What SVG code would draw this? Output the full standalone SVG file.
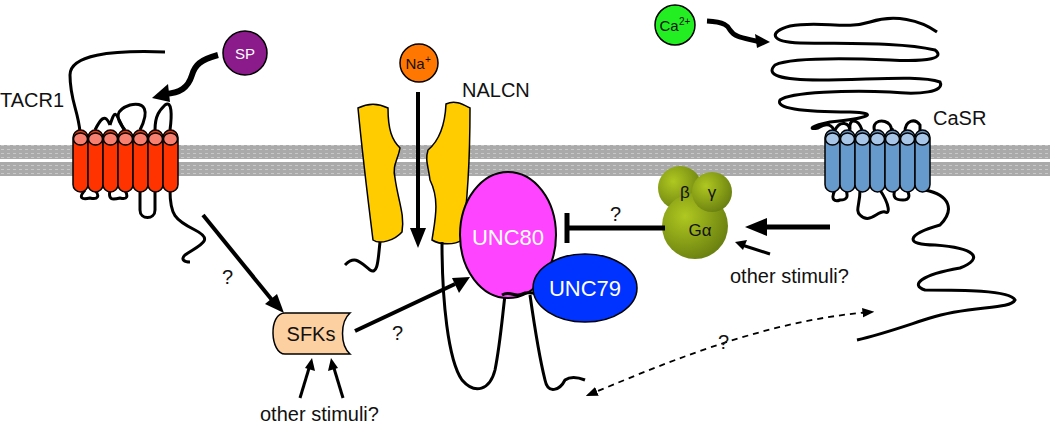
<svg xmlns="http://www.w3.org/2000/svg" width="1050" height="424" viewBox="0 0 1050 424">
<style>
text{font-family:"Liberation Sans",Arial,sans-serif;}
.lbl{font-size:20px;fill:#111}
.ln{fill:none;stroke:#000;stroke-width:3}
.hx{stroke:#000;stroke-width:1.5}
</style>
<defs>
<marker id="ahs" viewBox="0 0 10 10" refX="8" refY="5" markerWidth="12" markerHeight="12" markerUnits="userSpaceOnUse" orient="auto-start-reverse"><path d="M0,1 L10,5 L0,9 z"/></marker>
<radialGradient id="gg" cx="0.35" cy="0.35" r="0.7"><stop offset="0" stop-color="#b0c820"/><stop offset="1" stop-color="#6a8010"/></radialGradient>
<pattern id="mem" width="6" height="4" patternUnits="userSpaceOnUse"><rect width="6" height="4" fill="#aaa"/><rect x="1" y="1" width="3" height="1" fill="#c8c8c8"/></pattern>
</defs>
<rect width="1050" height="424" fill="#fff"/>
<g id="membrane">
<rect x="0" y="145" width="1050" height="14" fill="url(#mem)"/>
<rect x="0" y="162" width="1050" height="14" fill="url(#mem)"/>
</g>
<g id="tacr1">
<path class="ln" d="M80,132 C78,110 70,100 70,75 C70,55 110,50 165,52"/>
<path class="ln" d="M95,130 C100,120 105,112 110,125 M110,125 C115,110 115,110 124,130"/>
<path class="ln" d="M125,130 C115,118 115,110 130,105 C145,102 150,110 140,130"/>
<path class="ln" d="M155,130 C155,115 160,110 165,105 C172,100 172,115 170,130"/>
<path class="ln" d="M85,190 C78,198 82,200 90,198 C98,200 100,196 95,190 M110,190 C108,200 112,200 120,198 C128,200 128,196 125,190 M140,190 L140,210 C140,220 155,220 155,210 L155,190 M170,190 C170,215 175,220 195,230 C215,240 200,245 185,255 C180,260 185,262 190,262"/>
<g class="hx">
<rect x="73" y="130" width="15" height="62" rx="7.5" fill="#ff3300"/>
<rect x="88" y="130" width="15" height="62" rx="7.5" fill="#ff3300"/>
<rect x="103" y="130" width="15" height="62" rx="7.5" fill="#ff3300"/>
<rect x="118" y="130" width="15" height="62" rx="7.5" fill="#ff3300"/>
<rect x="133" y="130" width="15" height="62" rx="7.5" fill="#ff3300"/>
<rect x="148" y="130" width="15" height="62" rx="7.5" fill="#ff3300"/>
<rect x="163" y="130" width="15" height="62" rx="7.5" fill="#ff3300"/>
<ellipse cx="80.5" cy="139" rx="7" ry="6" fill="#f88070"/>
<ellipse cx="95.5" cy="139" rx="7" ry="6" fill="#f88070"/>
<ellipse cx="110.5" cy="139" rx="7" ry="6" fill="#f88070"/>
<ellipse cx="125.5" cy="139" rx="7" ry="6" fill="#f88070"/>
<ellipse cx="140.5" cy="139" rx="7" ry="6" fill="#f88070"/>
<ellipse cx="155.5" cy="139" rx="7" ry="6" fill="#f88070"/>
<ellipse cx="170.5" cy="139" rx="7" ry="6" fill="#f88070"/>
</g>
<text class="lbl" x="0" y="107">TACR1</text>
</g>
<g id="sp">
<path d="M218,55 C200,60 195,65 192,75 C188,88 180,93 165,94" fill="none" stroke="#000" stroke-width="6"/>
<path d="M152,98 L168,84 L170,102 z"/>
<circle cx="245" cy="53" r="22" fill="#8b1a8b" stroke="#000" stroke-width="1.5"/>
<text x="245" y="59" text-anchor="middle" font-size="15" fill="#fff">SP</text>
</g>
<g id="nalcn">
<path d="M358,108 C370,102 380,104 388,108 C388,130 392,140 400,148 C398,160 392,165 395,178 C398,200 405,215 402,232 C395,240 380,245 373,240 C368,200 362,150 358,108 z" fill="#ffcc00" stroke="#000" stroke-width="1.5"/>
<path d="M446,104 C455,100 462,104 470,108 C470,150 468,200 462,240 C455,245 440,245 432,240 C435,220 440,200 430,180 C428,165 425,160 428,150 C440,140 445,125 446,104 z" fill="#ffcc00" stroke="#000" stroke-width="1.5"/>
<path class="ln" d="M380,242 C378,260 378,275 370,270 C360,262 355,255 345,265"/>
<path class="ln" d="M442,242 C442,300 448,360 462,380 C475,395 490,390 495,370 C500,345 502,320 505,295"/>
<path class="ln" d="M530,295 C535,330 540,360 545,380 C548,395 560,390 565,380 C572,375 580,378 585,380"/>
<text class="lbl" x="462" y="97">NALCN</text>
</g>
<g id="na">
<circle cx="419" cy="63" r="19" fill="#ff7700" stroke="#000" stroke-width="1.5"/>
<text x="415" y="69" text-anchor="middle" font-size="15" fill="#111">Na</text><text x="425" y="63" font-size="10" fill="#111">+</text>
</g>
<g id="unc80">
<ellipse cx="508" cy="235" rx="48" ry="63" fill="#ff44ff" stroke="#000" stroke-width="2"/>
<path class="ln" d="M502,295 C510,290 515,298 522,294 C530,290 535,296 540,292"/>
<text x="508" y="245" text-anchor="middle" font-size="22" fill="#fff">UNC80</text>
</g>
<g id="unc79">
<ellipse cx="585" cy="288" rx="52" ry="34" fill="#0033ff" stroke="#000" stroke-width="1.5"/>
<text x="585" y="296" text-anchor="middle" font-size="22" fill="#fff">UNC79</text>
</g>
<g id="sfks">
<path d="M285,313 L350,313 C340,322 340,345 350,354 L285,354 C270,354 268,313 285,313 z" fill="#fcd0a0" stroke="#000" stroke-width="1.5"/>
<text x="311" y="341" text-anchor="middle" font-size="20" fill="#111">SFKs</text>
</g>
<g id="gprotein">
<circle cx="680" cy="188" r="22" fill="url(#gg)"/>
<circle cx="695" cy="226" r="33" fill="url(#gg)"/>
<circle cx="712" cy="192" r="20" fill="url(#gg)"/>
<circle cx="730" cy="247" r="7" fill="#fff"/>
<text x="685" y="198" text-anchor="middle" font-size="17" fill="#111">β</text>
<text x="712" y="198" text-anchor="middle" font-size="17" fill="#111">γ</text>
<text x="700" y="236" text-anchor="middle" font-size="17" fill="#111">Gα</text>
</g>
<g id="casr">
<path class="ln" d="M937,32 C920,20 895,14 870,22 C845,30 820,20 790,26 C768,32 770,42 800,43 C850,44 900,42 935,50 C945,58 930,62 890,60 C840,58 790,58 775,65 C765,75 780,80 820,80 C870,80 920,75 940,82 C945,92 920,95 890,92 C850,90 790,92 780,100 C775,108 800,112 850,112 C880,113 870,118 830,122 C810,126 808,130 818,128 C828,122 832,125 835,132"/>
<path class="ln" d="M835,130 C840,120 850,122 850,132 M850,130 C848,118 858,118 862,130 M875,132 C870,120 885,118 890,125 C893,130 890,132 893,128 M905,132 C905,120 915,118 920,125 L920,132"/>
<path class="ln" d="M835,190 C830,200 835,202 840,200 C848,200 848,196 846,190 M860,190 C860,205 855,210 860,215 C870,225 878,210 885,212 C890,215 890,205 880,190 M895,190 C892,198 896,200 903,200 C910,200 910,195 907,190 M925,190 C950,195 955,210 940,225 C905,235 905,245 935,245 C975,248 985,258 960,268 C920,275 910,285 925,290 C960,290 1010,290 1015,300 C1010,310 970,305 930,318 C905,326 880,335 857,340"/>
<g class="hx">
<rect x="825" y="130" width="15" height="62" rx="7.5" fill="#6699cc"/>
<rect x="840" y="130" width="15" height="62" rx="7.5" fill="#6699cc"/>
<rect x="855" y="130" width="15" height="62" rx="7.5" fill="#6699cc"/>
<rect x="870" y="130" width="15" height="62" rx="7.5" fill="#6699cc"/>
<rect x="885" y="130" width="15" height="62" rx="7.5" fill="#6699cc"/>
<rect x="900" y="130" width="15" height="62" rx="7.5" fill="#6699cc"/>
<rect x="915" y="130" width="15" height="62" rx="7.5" fill="#6699cc"/>
<ellipse cx="832.5" cy="139" rx="7" ry="6" fill="#a8c6e8"/>
<ellipse cx="847.5" cy="139" rx="7" ry="6" fill="#a8c6e8"/>
<ellipse cx="862.5" cy="139" rx="7" ry="6" fill="#a8c6e8"/>
<ellipse cx="877.5" cy="139" rx="7" ry="6" fill="#a8c6e8"/>
<ellipse cx="892.5" cy="139" rx="7" ry="6" fill="#a8c6e8"/>
<ellipse cx="907.5" cy="139" rx="7" ry="6" fill="#a8c6e8"/>
<ellipse cx="922.5" cy="139" rx="7" ry="6" fill="#a8c6e8"/>
</g>
<text class="lbl" x="933" y="125">CaSR</text>
</g>
<g id="ca">
<path d="M707,21 C725,22 728,26 730,30 C735,38 745,38 760,42" fill="none" stroke="#000" stroke-width="5"/>
<path d="M770,42 L755,34 L757,48 z"/>
<circle cx="675" cy="25" r="20" fill="#22ee22" stroke="#000" stroke-width="1.5"/>
<text x="669" y="31" text-anchor="middle" font-size="15" fill="#111">Ca</text><text x="679" y="25" font-size="10" fill="#111">2+</text>
</g>
<g id="connectors">
<line x1="418" y1="92" x2="418" y2="230" stroke="#000" stroke-width="4"/>
<path d="M410,228 L426,228 L418,248 z"/>
<line x1="203" y1="215" x2="272" y2="300" stroke="#000" stroke-width="4"/>
<path d="M284,313 L265,304 L277,294 z"/>
<line x1="355" y1="331" x2="455" y2="284" stroke="#000" stroke-width="4"/>
<path d="M470,277 L459,293 L452,278 z"/>
<line x1="665" y1="228" x2="568" y2="228" stroke="#000" stroke-width="5"/>
<line x1="567" y1="213" x2="567" y2="243" stroke="#000" stroke-width="5"/>
<line x1="830" y1="227" x2="765" y2="227" stroke="#000" stroke-width="5"/>
<path d="M745,227 L767,218 L767,236 z"/>
<line x1="770" y1="254" x2="742" y2="245" stroke="#000" stroke-width="3"/>
<path d="M735,242 L747,240 L743,250 z"/>
<line x1="300" y1="398" x2="310" y2="365" stroke="#000" stroke-width="3"/>
<path d="M312,358 L315,371 L305,368 z"/>
<line x1="343" y1="398" x2="333" y2="365" stroke="#000" stroke-width="3"/>
<path d="M331,358 L338,368 L328,371 z"/>
<path d="M588,395 C650,370 760,320 872,312" fill="none" stroke="#000" stroke-width="1.8" stroke-dasharray="6,5" marker-start="url(#ahs)" marker-end="url(#ahs)"/>
<text class="lbl" x="222" y="284">?</text>
<text class="lbl" x="392" y="340">?</text>
<text class="lbl" x="610" y="221">?</text>
<text class="lbl" x="718" y="349">?</text>
<text class="lbl" x="260" y="421">other stimuli?</text>
<text class="lbl" x="730" y="283">other stimuli?</text>
</g>
</svg>
